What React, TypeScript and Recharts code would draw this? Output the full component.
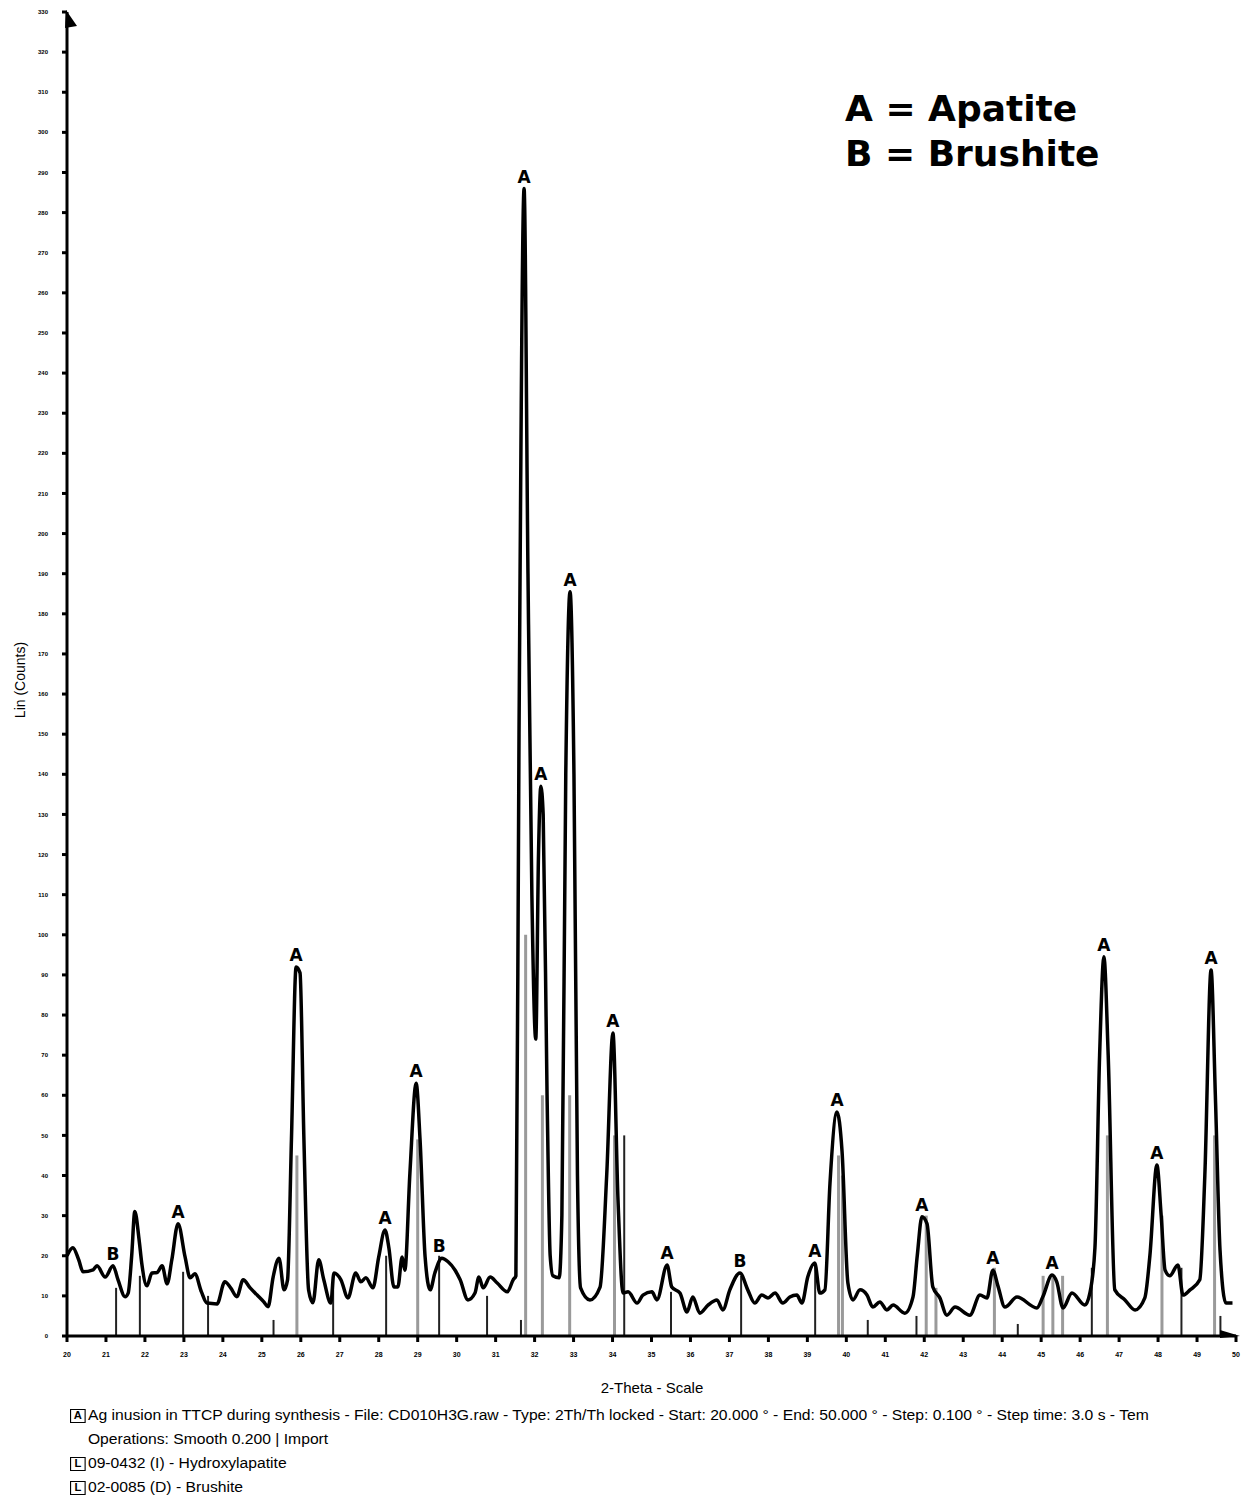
import React from "react";
import { LineChart, Line, XAxis, YAxis, ReferenceLine, ReferenceDot } from "recharts";

const twoTheta = [
  20.0, 20.15, 20.3, 20.41, 20.67, 20.77, 20.98, 21.18, 21.31, 21.49, 21.57, 21.66, 21.74, 21.85, 21.92,
  22.05, 22.18, 22.31, 22.44, 22.57, 22.69, 22.85, 23.03, 23.16, 23.28, 23.45, 23.59, 23.85, 24.05, 24.2,
  24.36, 24.52, 24.7, 24.88, 25.05, 25.16, 25.29, 25.44, 25.57, 25.66, 25.76, 25.88, 25.98, 26.08, 26.2,
  26.31, 26.46, 26.59, 26.77, 26.85, 27.03, 27.21, 27.41, 27.54, 27.67, 27.85, 28.0, 28.16, 28.26, 28.39,
  28.49, 28.6, 28.67, 28.8, 28.96, 29.06, 29.19, 29.32, 29.44, 29.62, 29.78, 29.96, 30.09, 30.29, 30.47,
  30.57, 30.68, 30.86, 31.04, 31.3, 31.45, 31.52, 31.6, 31.73, 31.83, 31.93, 32.03, 32.1, 32.16, 32.22,
  32.32, 32.4, 32.47, 32.63, 32.7, 32.8, 32.91, 33.01, 33.1, 33.18, 33.42, 33.68, 33.85, 34.01, 34.14,
  34.27, 34.4, 34.63, 34.78, 35.01, 35.14, 35.4, 35.52, 35.73, 35.91, 36.06, 36.24, 36.45, 36.68, 36.83,
  37.01, 37.27, 37.47, 37.65, 37.83, 37.99, 38.17, 38.37, 38.55, 38.73, 38.86, 39.01, 39.19, 39.32, 39.45,
  39.58, 39.76, 39.89, 40.04, 40.17, 40.35, 40.53, 40.68, 40.86, 41.04, 41.2, 41.5, 41.71, 41.82, 41.94,
  42.07, 42.22, 42.4, 42.58, 42.79, 43.17, 43.43, 43.61, 43.76, 43.89, 44.07, 44.38, 44.89, 45.04, 45.28,
  45.4, 45.56, 45.79, 46.12, 46.25, 46.38, 46.5, 46.61, 46.72, 46.89, 47.15, 47.41, 47.66, 47.79, 47.97,
  48.08, 48.18, 48.3, 48.51, 48.64, 48.82, 49.07, 49.2, 49.36, 49.47, 49.59, 49.74, 49.91,
];
const counts = [
  20, 22, 19, 16, 16.5, 17.5, 14.7, 17.5, 14, 9.8, 10.7, 20, 31, 24, 18,
  12.5, 15.7, 15.8, 17.5, 13, 19, 28, 19.7, 14.5, 15.5, 11, 8.2, 8, 13.5, 12,
  9.8, 14, 12, 10.2, 8.5, 7.3, 14.7, 19.4, 11.5, 14, 49, 92, 90.5, 49, 11.5,
  8.3, 19, 14, 8.2, 15.7, 14, 9.5, 15.7, 13.5, 14.5, 12, 19.7, 26.4, 22, 12.2,
  12.2, 19.7, 16.4, 40.6, 63, 49, 19.7, 11.5, 15.7, 19.4, 18.5, 16.4, 14, 9, 10.7,
  14.7, 12, 14.7, 13.2, 11, 14, 15, 150, 286, 190, 110, 74, 120, 137, 130,
  60, 20, 15, 14.5, 30, 140, 185.5, 140, 40, 12, 9, 12.2, 40, 75.5, 34,
  10.7, 11, 8.2, 10.2, 11, 9, 17.7, 12.2, 10.7, 6, 9.7, 5.7, 7.7, 9, 6.5,
  11.5, 15.7, 11.5, 8.2, 10.2, 9.5, 10.7, 8.2, 9.7, 10.2, 8.2, 14.7, 18.2, 10.7, 11.5,
  38, 55.8, 46, 13.2, 9, 11.5, 10.2, 7.2, 8.5, 6.5, 7.7, 5.7, 9.7, 20, 29.7,
  28, 12.2, 9.5, 5.2, 7.2, 5.2, 10.2, 9.5, 16.4, 12.5, 7.2, 9.7, 7, 9.7, 15.2,
  13.5, 7, 10.7, 7.7, 10.7, 22, 70, 94.5, 70, 11.5, 9, 6.5, 9.5, 20, 42.6,
  30, 16.4, 15, 17.7, 10.2, 11.5, 14, 40, 91.2, 60, 21.4, 8.2, 8.2,
];

// Reference pattern sticks
const apatiteStickPos = [25.9, 29.0, 31.77, 32.2, 32.9, 34.05, 39.8, 39.9, 42.05, 42.3, 43.8, 45.05, 45.3, 45.55, 46.7, 48.1, 49.45];
const apatiteStickH = [45, 49, 100, 60, 60, 50, 45, 40, 30, 12, 17, 15, 15, 15, 50, 30, 50];
const brushiteStickPos = [21.26, 21.87, 22.98, 23.62, 25.3, 26.83, 28.19, 29.55, 30.78, 31.65, 34.3, 35.5, 37.3, 39.2, 40.55, 41.8, 44.4, 46.3, 48.6, 49.6];
const brushiteStickH = [12, 15, 16, 10, 4, 15, 20, 20, 10, 4, 50, 11, 15, 18, 4, 5, 3, 17, 17, 5];

// Peak phase labels
const labelPos = [21.18, 22.85, 25.88, 28.16, 28.96, 29.55, 31.73, 32.16, 32.91, 34.01, 35.4, 37.27, 39.19, 39.76, 41.94, 43.76, 45.28, 46.61, 47.97, 49.36];
const labelY = [17.5, 28, 92, 26.4, 63, 19.4, 286, 137, 185.5, 75.5, 17.7, 15.7, 18.2, 55.8, 29.7, 16.4, 15.2, 94.5, 42.6, 91.2];
const labelText = ["B", "A", "A", "A", "A", "B", "A", "A", "A", "A", "A", "B", "A", "A", "A", "A", "A", "A", "A", "A"];

const xTicks = Array.from({ length: 31 }, (_, i) => 20 + i);
const yTicks = Array.from({ length: 34 }, (_, i) => i * 10);

const data = twoTheta.map((t, i) => ({ t, c: counts[i] }));

const UpArrow = (p: any) => (
  <path d={`M${p.cx - 2},${p.cy + 16} L${p.cx - 1},${p.cy - 2} L${p.cx + 10},${p.cy + 14} Z`} fill="#000" />
);
const RightArrow = (p: any) => (
  <path d={`M${p.cx - 16},${p.cy - 6} L${p.cx + 4},${p.cy} L${p.cx - 16},${p.cy + 2} Z`} fill="#000" />
);

const boxStyle: React.CSSProperties = {
  display: "inline-block",
  width: 14,
  height: 14,
  border: "1.5px solid #000",
  fontSize: 10,
  lineHeight: "12px",
  textAlign: "center",
  fontWeight: 700,
  marginRight: 2,
  verticalAlign: "middle",
  boxSizing: "border-box",
};

export default function App() {
  return (
    <div style={{ position: "relative", width: 1245, height: 1489, fontFamily: "'Liberation Sans', Arial, sans-serif", background: "#fff" }}>
      <LineChart width={1245} height={1380} data={data} margin={{ top: 4, right: 17, left: 0, bottom: 22 }}>
        <XAxis
          dataKey="t"
          type="number"
          domain={[20, 50]}
          ticks={xTicks}
          interval={0}
          height={30}
          tickSize={6}
          tickMargin={10}
          stroke="#000"
          strokeWidth={3}
          tick={{ fontSize: 7, fill: "#000", fontWeight: 700 }}
        />
        <YAxis
          type="number"
          domain={[0, 330]}
          ticks={yTicks}
          interval={0}
          width={59}
          tickSize={5}
          tickMargin={14}
          stroke="#000"
          strokeWidth={3}
          tick={{ fontSize: 6, fill: "#000", fontWeight: 700 }}
        />
        {apatiteStickPos.map((x, i) => (
          <ReferenceLine key={"ha" + i} segment={[{ x, y: 0 }, { x, y: apatiteStickH[i] }]} stroke="#9a9a9a" strokeWidth={3} />
        ))}
        {brushiteStickPos.map((x, i) => (
          <ReferenceLine key={"br" + i} segment={[{ x, y: 0 }, { x, y: brushiteStickH[i] }]} stroke="#222" strokeWidth={2} />
        ))}
        <Line
          dataKey="c"
          type="monotone"
          stroke="#000"
          strokeWidth={3.5}
          dot={false}
          isAnimationActive={false}
        />
        {labelPos.map((x, i) => (
          <ReferenceDot
            key={"lb" + i}
            x={x}
            y={labelY[i]}
            r={0}
            fill="none"
            stroke="none"
            label={{ value: labelText[i], position: "top", offset: 6, fontSize: 17, fontWeight: 900, fill: "#000", fontFamily: "'DejaVu Sans', sans-serif" }}
          />
        ))}
        <ReferenceDot x={20} y={330} r={0} shape={UpArrow} />
        <ReferenceDot x={50} y={0} r={0} shape={RightArrow} />
      </LineChart>

      <div style={{ position: "absolute", left: 837, top: 78, fontSize: 36, fontWeight: 900, lineHeight: "45px", color: "#000", fontFamily: "'DejaVu Sans', sans-serif" }}>
        <div>A = Apatite</div>
        <div>B = Brushite</div>
      </div>

      <div style={{ position: "absolute", left: 12, top: 672, transform: "translate(-50%, -50%) rotate(-90deg)", transformOrigin: "center", fontSize: 14, whiteSpace: "nowrap" }}>
        Lin (Counts)
      </div>

      <div style={{ position: "absolute", left: 644, top: 1371, transform: "translateX(-50%)", fontSize: 15, whiteSpace: "nowrap" }}>
        2-Theta - Scale
      </div>

      <div style={{ position: "absolute", left: 62, top: 1395, fontSize: 14, lineHeight: "24px", whiteSpace: "nowrap", transform: "scaleX(1.12)", transformOrigin: "left top" }}>
        <div><span style={boxStyle}>A</span>Ag inusion in TTCP during synthesis - File: CD010H3G.raw - Type: 2Th/Th locked - Start: 20.000 ° - End: 50.000 ° - Step: 0.100 ° - Step time: 3.0 s - Tem</div>
        <div style={{ paddingLeft: 16 }}>Operations: Smooth 0.200 | Import</div>
        <div><span style={boxStyle}>L</span>09-0432 (I) - Hydroxylapatite</div>
        <div><span style={boxStyle}>L</span>02-0085 (D) - Brushite</div>
      </div>
    </div>
  );
}
